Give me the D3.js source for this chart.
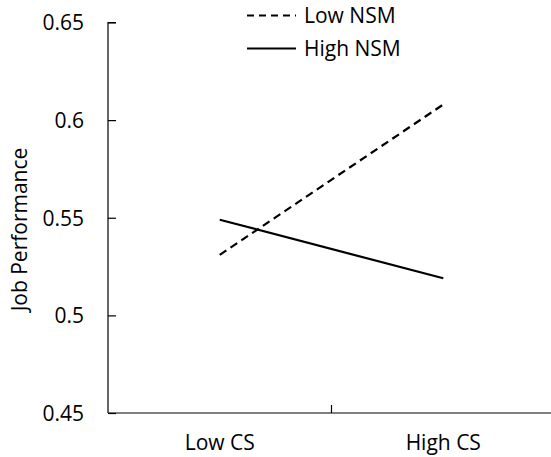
<!DOCTYPE html>
<html><head><meta charset="utf-8">
<script src="https://cdn.jsdelivr.net/npm/d3@7"></script>
<style>body{margin:0;background:#fff}svg{display:block}text{font-family:"Open Sans",sans-serif;fill:#000}</style>
</head><body>
<svg id="c" width="551" height="457"></svg>
<script>
const categories = ["Low CS", "High CS"];
const seriesNames = ["Low NSM", "High NSM"];
const lowNSM = [0.531, 0.608];
const highNSM = [0.549, 0.519];
const yTicks = [0.45, 0.5, 0.55, 0.6, 0.65];
const yTickLabels = ["0.45", "0.5", "0.55", "0.6", "0.65"];
const yTitle = "Job Performance";

const svg = d3.select("#c");
const x = d3.scaleBand().domain(categories).range([108, 555]);
const y = d3.scaleLinear().domain([0.45, 0.65]).range([413, 22.5]);
const fs = 21;

// y axis
const ya = svg.append("g").attr("transform", "translate(108,0)")
  .call(d3.axisRight(y).tickValues(yTicks).tickSize(8).tickFormat((d,i)=>yTickLabels[i]));
ya.select(".domain").attr("stroke","#000").attr("stroke-width",1.2).attr("d","M8,"+y(0.65)+"H0V"+y(0.45));
ya.selectAll(".tick line").attr("stroke","#000").attr("stroke-width",1.2);
ya.selectAll(".tick text").attr("x",-24).attr("text-anchor","end").attr("dy","0.35em")
  .style("font-size",fs+"px").style("font-family","'Open Sans',sans-serif").attr("fill","#000");

// x axis
const xa = svg.append("g").attr("transform","translate(0,413)")
  .call(d3.axisBottom(x).tickSize(0).tickPadding(22));
xa.select(".domain").attr("stroke","#000").attr("stroke-width",1.2).attr("d","M108,0H555");
xa.selectAll(".tick text").style("font-size",fs+"px").style("font-family","'Open Sans',sans-serif").attr("fill","#000");
// boundary tick between categories
svg.append("line").attr("x1",x("High CS")).attr("x2",x("High CS"))
  .attr("y1",413).attr("y2",405).attr("stroke","#000").attr("stroke-width",1.2);

// y title
svg.append("text").attr("transform","translate(27,229.5) rotate(-90)")
  .attr("text-anchor","middle").style("font-size",fs+"px").text(yTitle);

// lines
const cx = d => x(d) + x.bandwidth()/2;
const line = d3.line().x((d,i)=>cx(categories[i])).y(d=>y(d));
svg.append("path").datum(lowNSM).attr("d",line).attr("fill","none")
  .attr("stroke","#000").attr("stroke-width",2.2).attr("stroke-dasharray","8,5");
svg.append("path").datum(highNSM).attr("d",line).attr("fill","none")
  .attr("stroke","#000").attr("stroke-width",2.2);

// legend
const leg = [{name:seriesNames[0],dash:"7,5",y:15.5},{name:seriesNames[1],dash:null,y:48.5}];
leg.forEach(l=>{
  svg.append("line").attr("x1",247).attr("x2",296).attr("y1",l.y).attr("y2",l.y)
    .attr("stroke","#000").attr("stroke-width",2.2).attr("stroke-dasharray",l.dash);
  svg.append("text").attr("x",304).attr("y",l.y).attr("dy","0.35em")
    .style("font-size",fs+"px").text(l.name);
});
</script>
</body></html>
